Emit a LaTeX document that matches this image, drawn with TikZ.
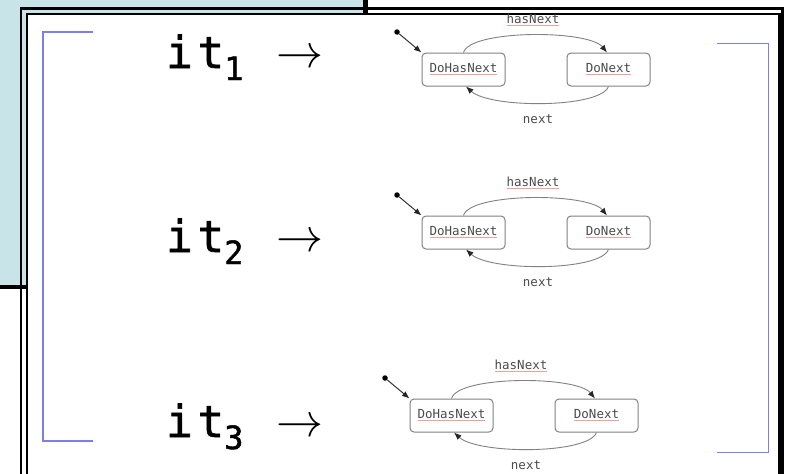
\documentclass[tikz,border=0pt]{standalone}
\usepackage{graphicx}
\usepackage{fontspec}
\usetikzlibrary{arrows.meta}
\newfontfamily\codefont{DejaVu Sans Mono}
\newfontfamily\namefont[FakeBold=1.5]{DejaVu Sans Mono}
\definecolor{panelblue}{RGB}{200,228,232}
\definecolor{bracketblue}{RGB}{125,125,240}
\definecolor{edgegray}{RGB}{130,130,130}
\definecolor{labelgray}{RGB}{75,75,75}
\definecolor{spellred}{RGB}{238,160,160}
\newcommand\spellmark[1]{{\color{spellred}\underline{\color{labelgray}#1}}}
\newcommand\bigto{\scalebox{4.7}{$\rightarrow$}}
\tikzset{
  state/.style={draw=edgegray, line width=1pt, rounded corners=4pt,
    minimum width=83pt, minimum height=33pt, inner sep=0pt,
    font=\codefont\fontsize{12.5}{14}\selectfont, text=labelgray},
  trans/.style={draw=edgegray, line width=0.9pt,
    -{Latex[length=7.5pt,width=6pt,color=black!85]}},
  startline/.style={draw=black!80, line width=1pt,
    -{Latex[length=7.5pt,width=6pt,color=black!85]}},
  startdot/.style={circle, fill=black, inner sep=0pt, minimum size=5.5pt},
  edgelabel/.style={font=\codefont\fontsize{12.5}{14}\selectfont,
    text=labelgray, inner sep=0pt},
  bracket/.style={draw=bracketblue, line width=1.6pt},
  itname/.style={font=\namefont\fontsize{44}{44}\selectfont,
    inner sep=0pt, anchor=base west},
  itsub/.style={font=\namefont\fontsize{32}{32}\selectfont,
    inner sep=0pt, anchor=base west},
  itarrow/.style={inner sep=0pt, anchor=base west},
}
\begin{document}
\begin{tikzpicture}[x=1pt,y=-1pt]
\useasboundingbox (0,0) rectangle (785,474);
\clip (0,0) rectangle (785,474);

% slide panel behind the frame
\fill[panelblue] (0,0) rectangle (365.8,287);
\draw[line width=5pt] (365.8,-3) -- (365.8,287);
\draw[line width=4.3pt] (-3,287) -- (368.3,287);

% double-ruled frame
\fill[white] (27,14) rectangle (779.5,490);
\draw[line width=2.6pt] (27,490) -- (27,14) -- (779.5,14) -- (779.5,490);
\draw[line width=2.8pt] (21,490) -- (21,8.4) -- (782.8,8.4) -- (782.8,490);

% brackets round the three iterators
\draw[bracket] (92.5,32) -- (43,32) -- (43,441) -- (92.5,441);
\draw[bracket] (717,43.5) -- (768.5,43.5) -- (768.5,452.5) -- (717,452.5);

% iterator names
\node[itname] (it1) at (166,68) {i\hspace{5pt}t};
\node[itsub] (s1) at (224,80) {1};
\node[itarrow] (a1) at (276.5,67) {\bigto};
\node[itname] (it2) at (166,252) {i\hspace{5pt}t};
\node[itsub] (s2) at (224,264) {2};
\node[itarrow] (a2) at (276.5,251) {\bigto};
\node[itname] (it3) at (166,437) {i\hspace{5pt}t};
\node[itsub] (s3) at (224,449) {3};
\node[itarrow] (a3) at (276.5,436) {\bigto};

% one state machine per iterator
\foreach \r/\dx/\dy in {1/0/0, 2/0/163, 3/-12/346} {
  \begin{scope}[shift={(\dx,\dy)}, name prefix=r\r-]
    \node[state] (dh) at (463.5,69.5) {\spellmark{DoHasNext}};
    \node[state] (dn) at (608.5,69.5) {\spellmark{DoNext}};
    \node[startdot] (init) at (397,32) {};
    \draw[startline] (init) -- (dh.north west);
    \draw[trans] (dh.north) .. controls +(6.5,-23) and +(-18.5,-23) .. ([xshift=-1.5pt]dn.north);
    \draw[trans] (dn.south) .. controls +(-8.5,22) and +(24,22) .. ([xshift=2.5pt]dh.south);
    \node[edgelabel] (hn) at (533,20) {\spellmark{hasNext}};
    \node[edgelabel] (nx) at (538,119) {next};
  \end{scope}
}
\end{tikzpicture}
\end{document}
